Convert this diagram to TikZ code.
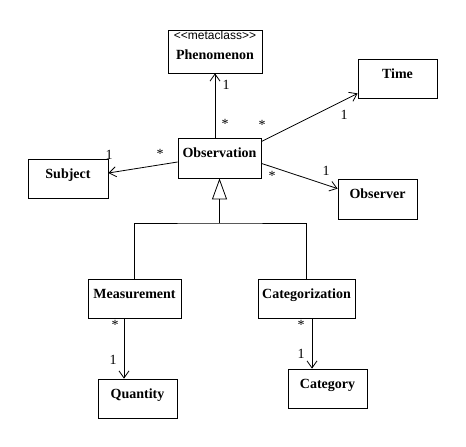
\documentclass[tikz,border=0pt]{standalone}
\usepackage{fontspec}
\setmainfont{Liberation Serif}
\newfontfamily\stereofont{Liberation Sans}
\usetikzlibrary{arrows.meta,calc}
\tikzset{
  cls/.style={draw, line width=0.8pt, inner sep=0pt,
    font=\fontsize{14}{16}\selectfont\bfseries,
    text height=9pt, text depth=10pt},
  stereo/.style={inner sep=0pt, font=\stereofont\fontsize{12}{14}\selectfont},
  mult/.style={inner sep=0pt, font=\fontsize{14}{16}\selectfont},
  assoc/.style={line width=0.8pt, -{Straight Barb[length=7pt,width=10pt]}},
  inh/.style={line width=0.8pt, -{Triangle[open,length=21pt,width=15pt]}},
  plain/.style={line width=0.8pt}
}
\begin{document}
\begin{tikzpicture}[x=1pt,y=-1pt]
\fill[white] (0,0) rectangle (466,447);
\useasboundingbox (0,0) rectangle (466,447);

% classes
\node[cls, minimum width=94pt, minimum height=43pt, text height=16pt, text depth=0pt] (phen) at (215,51.5) {Phenomenon};
\node[stereo] (phenst) at ($(phen.north)+(0,6)$) {<{}<metaclass>{}>};
\node[cls, minimum width=83pt, minimum height=40pt] (obs) at (219.5,158) {Observation};
\node[cls, minimum width=80pt, minimum height=39pt] (subj) at (68,178.5) {Subject};
\node[cls, minimum width=79pt, minimum height=39pt] (time) at (397.5,78.5) {Time};
\node[cls, minimum width=79pt, minimum height=40pt] (obsr) at (377.5,199) {Observer};
\node[cls, minimum width=93pt, minimum height=39pt] (meas) at (134.5,298.5) {Measurement};
\node[cls, minimum width=97pt, minimum height=39pt] (catz) at (306.5,298.5) {Categorization};
\node[cls, minimum width=79pt, minimum height=39pt] (qty) at (137.5,398.5) {Quantity};
\node[cls, minimum width=79pt, minimum height=39pt] (categ) at (327.5,388.5) {Category};

% associations
\draw[assoc] ($(obs.north)+(-4.5,0)$) -- (phen.south);
\draw[assoc] ($(obs.north east)+(0,4)$) -- ($(time.south west)+(0,-5)$);
\draw[assoc] ($(obs.south east)+(0,-15)$) -- ($(obsr.north west)+(0,10)$);
\draw[assoc] ($(obs.west)+(0,4)$) -- ($(subj.east)+(0,-5.5)$);
\draw[assoc] ($(meas.south)+(-10.5,0)$) -- ($(qty.north)+(-13.5,0)$);
\draw[assoc] ($(catz.south)+(5.5,0)$) -- ($(categ.north)+(-15.5,0)$);

% generalization
\coordinate (j) at (219.5,223);
\draw[plain] (meas.north) |- (j) -| (catz.north);
\draw[inh] (j) -- (obs.south);

% multiplicities
\node[mult] (m1) at (226,85) {1};
\node[mult] (m2) at (225,124) {*};
\node[mult] (m3) at (262,125) {*};
\node[mult] (m4) at (344,115) {1};
\node[mult] (m5) at (272,176) {*};
\node[mult] (m6) at (326,171) {1};
\node[mult] (m7) at (160,154) {*};
\node[mult] (m8) at (109,155) {1};
\node[mult] (m9) at (115,325) {*};
\node[mult] (m10) at (113,360) {1};
\node[mult] (m11) at (301,325) {*};
\node[mult] (m12) at (301,354) {1};
\end{tikzpicture}
\end{document}
